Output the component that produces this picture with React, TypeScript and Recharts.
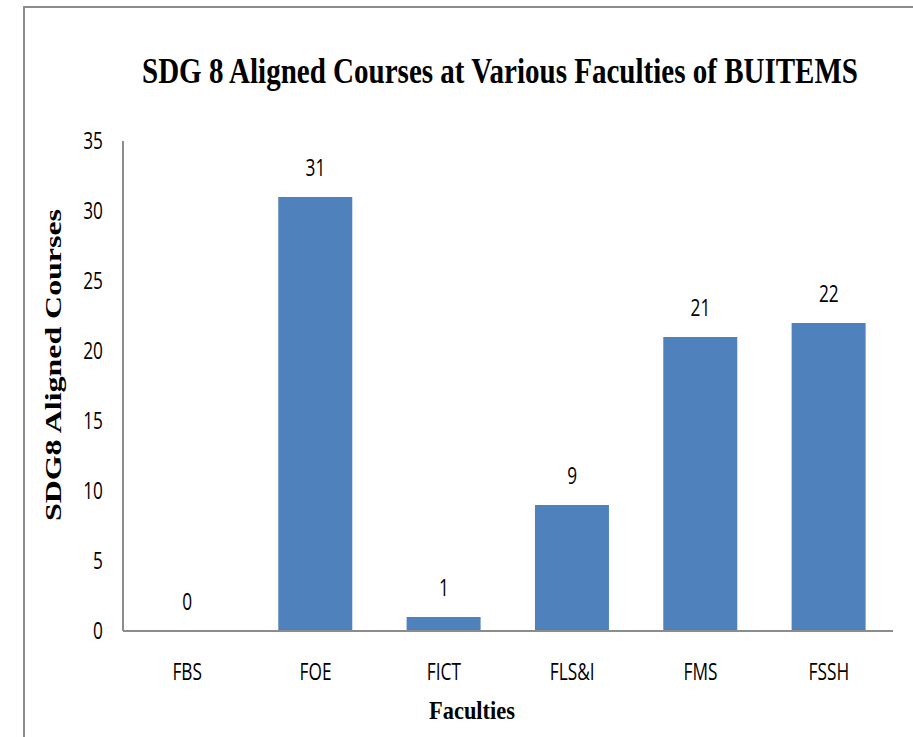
import React from "react";
import { ComposedChart, Bar, Line, XAxis, YAxis, LabelList, Label } from "recharts";

const faculties = ["FBS", "FOE", "FICT", "FLS&I", "FMS", "FSSH"];
const courses = [0, 31, 1, 9, 21, 22];
const yTicks = [0, 5, 10, 15, 20, 25, 30, 35];

const data = faculties.map((f, i) => ({ faculty: f, value: courses[i] }));

const tickFont = "'Open Sans', 'Noto Sans', sans-serif";
const serif = "'Liberation Serif', 'Times New Roman', serif";
const SX = 0.72;

const YTick = (props: any) => {
  const { x, y, payload } = props;
  return (
    <g transform={`translate(${x},${y}) scale(${SX},1)`}>
      <text x={0} y={0} dy={8} textAnchor="end" fontFamily={tickFont} fontSize={24} fill="#000">
        {payload.value}
      </text>
    </g>
  );
};

const XTick = (props: any) => {
  const { x, y, payload } = props;
  return (
    <g transform={`translate(${x},${y}) scale(${SX},1)`}>
      <text x={0} y={0} dy={17} textAnchor="middle" fontFamily={tickFont} fontSize={24} fill="#000">
        {payload.value}
      </text>
    </g>
  );
};

const PointValue = (props: any) => {
  const { x, y, value } = props;
  return (
    <g transform={`translate(${Number(x)},${Number(y) - 21}) scale(${SX},1)`}>
      <text x={0} y={0} textAnchor="middle" fontFamily={tickFont} fontSize={24} fill="#000">
        {value}
      </text>
    </g>
  );
};

const YTitle = () => (
  <text
    x={53}
    y={365}
    transform={`rotate(-90, 53, 365)`}
    textAnchor="middle"
    dominantBaseline="central"
    fontFamily={serif}
    fontWeight="bold"
    fontSize={23}
    fill="#000"
    textLength={312}
    lengthAdjust="spacingAndGlyphs"
  >
    SDG8 Aligned Courses
  </text>
);

const XTitle = () => (
  <text
    x={472}
    y={719}
    textAnchor="middle"
    fontFamily={serif}
    fontWeight="bold"
    fontSize={25}
    fill="#000"
    textLength={86}
    lengthAdjust="spacingAndGlyphs"
  >
    Faculties
  </text>
);

export default function App() {
  return (
    <div style={{ position: "fixed", left: 0, top: 0, width: 913, height: 737, background: "#fff", overflow: "hidden" }}>
      <div
        style={{
          position: "absolute",
          left: 23,
          top: 6,
          width: 913,
          height: 737,
          borderTop: "2px solid #8c8c8c",
          borderLeft: "2px solid #8c8c8c",
        }}
      />
      <div style={{ position: "absolute", left: 0, top: 0 }}>
        <ComposedChart
          width={913}
          height={737}
          data={data}
          margin={{ top: 141, right: 20, bottom: 66, left: 23 }}
          barCategoryGap="21%"
        >
          <XAxis
            dataKey="faculty"
            height={40}
            tickLine={false}
            tickSize={0}
            tickMargin={32}
            axisLine={{ stroke: "#8c8c8c", strokeWidth: 2 }}
            tick={<XTick />}
            interval={0}
          >
            <Label content={<XTitle />} />
          </XAxis>
          <YAxis
            width={100}
            domain={[0, 35]}
            ticks={yTicks}
            interval={0}
            tickLine={false}
            tickSize={0}
            tickMargin={20}
            axisLine={{ stroke: "#8c8c8c", strokeWidth: 2 }}
            tick={<YTick />}
          >
            <Label content={<YTitle />} />
          </YAxis>
          <Bar dataKey="value" fill="#4F81BD" isAnimationActive={false} />
          <Line
            dataKey="value"
            stroke="none"
            dot={false}
            activeDot={false}
            isAnimationActive={false}
          >
            <LabelList dataKey="value" content={<PointValue />} />
          </Line>
        </ComposedChart>
      </div>
      <svg style={{ position: "absolute", left: 0, top: 0 }} width={913} height={737} pointerEvents="none">
        <g transform="translate(500,83) scale(1,1.2)">
          <text
            x={0}
            y={0}
            textAnchor="middle"
            fontFamily={serif}
            fontWeight="bold"
            fontSize={29}
            fill="#000"
            textLength={716}
            lengthAdjust="spacingAndGlyphs"
          >
            SDG 8 Aligned Courses at Various Faculties of BUITEMS
          </text>
        </g>
      </svg>
    </div>
  );
}
